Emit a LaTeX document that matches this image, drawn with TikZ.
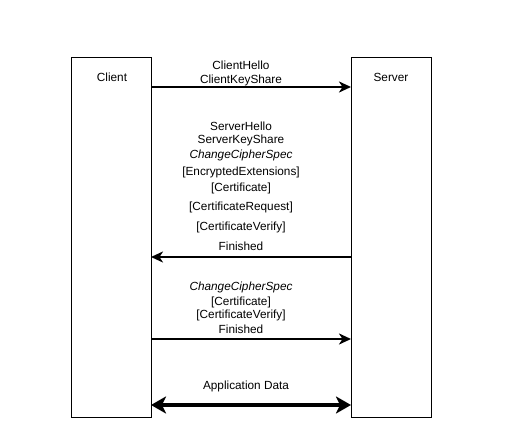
\documentclass[tikz,border=0pt]{standalone}
\usepackage{fontspec}
\setmainfont{Liberation Sans}
\usetikzlibrary{arrows.meta}
\begin{document}
\begin{tikzpicture}[x=1pt,y=-1pt,
  party/.style={draw=black,line width=1pt,fill=white,minimum width=80pt,minimum height=360pt,inner sep=0pt,anchor=north west},
  lbl/.style={font=\fontsize{11.8}{13}\selectfont,inner sep=0pt,anchor=center},
  msg/.style={line width=2pt,-{Stealth[length=12pt,width=11pt,inset=3.5pt]}},
  appmsg/.style={line width=4pt,{Stealth[length=15pt,width=17pt,inset=4pt]}-{Stealth[length=15pt,width=17pt,inset=4pt]}}]
\useasboundingbox (0,0) rectangle (511,446);
\node[party] (client) at (71,57) {};
\node[party] (server) at (351,57) {};
\node[lbl] (clientlbl) at (112,77) {Client};
\node[lbl] (serverlbl) at (391,77) {Server};
% message 1
\coordinate (c1) at (151,87);
\coordinate (s1) at (351,87);
\draw[msg] (c1) -- (s1);
\node[lbl] (m1a) at (241,65) {ClientHello};
\node[lbl] (m1b) at (241,80) {ClientKeyShare};
% message 2
\coordinate (c2) at (151,257);
\coordinate (s2) at (351,257);
\draw[msg] (s2) -- (c2);
\node[lbl] (m2a) at (241,126) {ServerHello};
\node[lbl] (m2b) at (241,140) {ServerKeyShare};
\node[lbl] (m2c) at (241,155) {\itshape ChangeCipherSpec};
\node[lbl] (m2d) at (241,172) {[EncryptedExtensions]};
\node[lbl] (m2e) at (241,188) {[Certificate]};
\node[lbl] (m2f) at (241,207) {[CertificateRequest]};
\node[lbl] (m2g) at (241,227) {[CertificateVerify]};
\node[lbl] (m2h) at (241,246) {Finished};
% message 3
\coordinate (c3) at (151,339);
\coordinate (s3) at (351,339);
\draw[msg] (c3) -- (s3);
\node[lbl] (m3a) at (241,287) {\itshape ChangeCipherSpec};
\node[lbl] (m3b) at (241,302) {[Certificate]};
\node[lbl] (m3c) at (241,315) {[CertificateVerify]};
\node[lbl] (m3d) at (241,329) {Finished};
% application data
\coordinate (c4) at (151,405);
\coordinate (s4) at (351,405);
\draw[appmsg] (c4) -- (s4);
\node[lbl] (m4) at (246,386) {Application Data};
\end{tikzpicture}
\end{document}
